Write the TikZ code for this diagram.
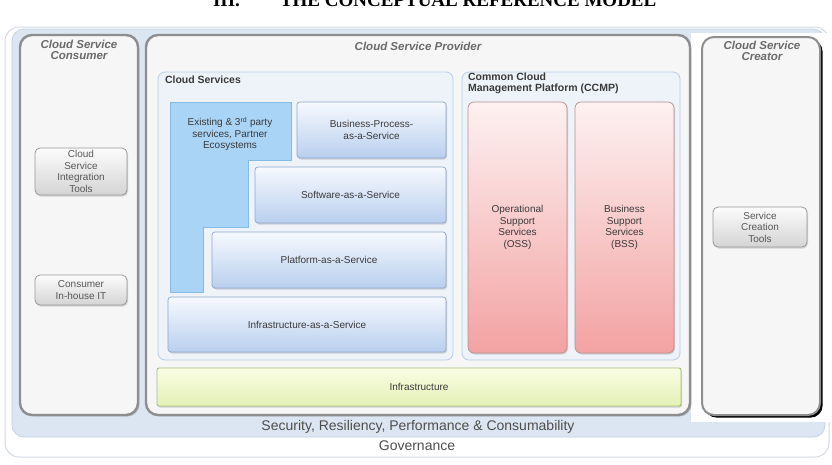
\documentclass[tikz,border=0pt]{standalone}
\usepackage{fontspec}
\setmainfont{Liberation Sans}
\newfontfamily\titleserif{Liberation Serif}
\usetikzlibrary{shadows}
\definecolor{govborder}{HTML}{D3DAE3}
\definecolor{bandfill}{HTML}{DCE6F2}
\definecolor{bandborder}{HTML}{C3D2E6}
\definecolor{panelfill}{HTML}{F6F6F6}
\definecolor{panelborder}{HTML}{8E8E8E}
\definecolor{titlegray}{HTML}{6A6A6A}
\definecolor{contfill}{HTML}{EEF3FA}
\definecolor{contborder}{HTML}{B9CCE5}
\definecolor{svctop}{HTML}{F6F9FE}
\definecolor{svcbot}{HTML}{B9CFEE}
\definecolor{svcborder}{HTML}{8DA7CC}
\definecolor{exfill}{HTML}{A9D4F6}
\definecolor{exborder}{HTML}{86BBE6}
\definecolor{redtop}{HTML}{FDF1F1}
\definecolor{redbot}{HTML}{F3A2A2}
\definecolor{redborder}{HTML}{BC8C8C}
\definecolor{infratop}{HTML}{F9FCE4}
\definecolor{infrabot}{HTML}{E5F1B6}
\definecolor{infraborder}{HTML}{A3BF78}
\definecolor{tooltop}{HTML}{FCFCFC}
\definecolor{toolbot}{HTML}{D4D4D4}
\definecolor{toolborder}{HTML}{989898}
\definecolor{txt}{HTML}{3A3A3A}
\newcommand\bx[7]{\node[#2, minimum width={(#5-#3)*1pt}, minimum height={(#6-#4)*1pt}] (#1) at ({(#3+#5)/2},{(#4+#6)/2}) {#7};}
\newcommand\boxfont{\fontsize{10}{11.5}\selectfont}
\begin{document}
\begin{tikzpicture}[x=1pt,y=-1pt,
  every node/.style={inner sep=0pt, outer sep=0pt, align=center},
  govbox/.style={draw=govborder, line width=1pt, fill=white, rounded corners=14pt},
  bandbox/.style={draw=bandborder, line width=0.8pt, fill=bandfill, rounded corners=12pt},
  panel/.style={draw=panelborder, line width=2.4pt, fill=panelfill, rounded corners=12pt,
    drop shadow={shadow xshift=1.5pt, shadow yshift=-1.5pt, opacity=0.35}},
  creatorpanel/.style={draw=panelborder, line width=2pt, fill=panelfill, rounded corners=12pt,
    drop shadow={shadow xshift=2.6pt, shadow yshift=-2.6pt, opacity=1, fill=black}},
  paneltitle/.style={font=\bfseries\itshape\fontsize{11.5}{10.5}\selectfont, text=titlegray},
  container/.style={draw=contborder, line width=0.8pt, fill=contfill, rounded corners=7pt},
  conttitle/.style={font=\bfseries\fontsize{10.5}{11}\selectfont, text=txt, align=left},
  svc/.style={draw=svcborder, line width=0.7pt, rounded corners=3pt, top color=svctop, bottom color=svcbot,
    font=\boxfont, text=txt, drop shadow={shadow xshift=1pt, shadow yshift=-1.5pt, opacity=0.3}},
  redbox/.style={draw=redborder, line width=0.7pt, rounded corners=6pt, top color=redtop, bottom color=redbot,
    font=\boxfont, text=txt, drop shadow={shadow xshift=1pt, shadow yshift=-1.5pt, opacity=0.3}},
  infrabox/.style={draw=infraborder, line width=0.9pt, rounded corners=2pt, top color=infratop, bottom color=infrabot,
    font=\boxfont, text=txt, drop shadow={shadow xshift=1pt, shadow yshift=-1.5pt, opacity=0.3}},
  toolbox/.style={draw=toolborder, line width=0.8pt, rounded corners=5pt, top color=tooltop, bottom color=toolbot,
    font=\boxfont, text=txt!85!white, drop shadow={shadow xshift=1pt, shadow yshift=-1.5pt, opacity=0.3}},
  bandtext/.style={font=\fontsize{14}{16}\selectfont, text=txt!90!white}
]
\useasboundingbox (0,0) rectangle (832,464);
\clip (0,0) rectangle (832,464);
\fill[white] (0,0) rectangle (832,464);

% cut-off heading
\node[anchor=base west, font={\titleserif\bfseries\fontsize{19}{19}\selectfont}] (secno) at (213,6) {III.};
\node[anchor=base west, font={\titleserif\bfseries\fontsize{19}{19}\selectfont}] (heading) at (280,6) {THE CONCEPTUAL REFERENCE MODEL};

% governance and security bands
\bx{gov}{govbox}{5}{27}{829}{457}{}
\bx{band}{bandbox}{12}{29}{825}{437}{}
\fill[white] (691,33) rectangle (832,422);
\node[bandtext] (sec) at (418,427) {Security, Resiliency, Performance \& Consumability};
\node[bandtext] (govtext) at (417,446) {Governance};

% consumer
\bx{consumer}{panel}{20}{35}{138}{415}{}
\node[paneltitle] (constitle) at (79,50) {Cloud Service\\Consumer};
\bx{csit}{toolbox}{35}{148}{127}{195}{Cloud\\Service\\Integration\\Tools}
\bx{inhouse}{toolbox}{35}{275}{127}{305}{Consumer\\In-house IT}

% provider
\bx{provider}{panel}{146}{35}{690}{415}{}
\node[paneltitle] (provtitle) at (418,46) {Cloud Service Provider};

% cloud services
\bx{cs}{container}{158}{72}{453}{360}{}
\node[conttitle, anchor=west] (cstitle) at (165,80) {Cloud Services};
\draw[draw=exborder, line width=0.7pt, fill=exfill]
  (170,102) -- (291,102) -- (291,160) -- (248,160) -- (248,227) -- (203,227) -- (203,292) -- (170,292) -- cycle;
\node[font=\boxfont, text=txt] (exist) at (230,134) {Existing \& 3\textsuperscript{rd} party\\services, Partner\\Ecosystems};
\bx{bpaas}{svc}{297}{102}{446}{158}{Business-Process-\\as-a-Service}
\bx{saas}{svc}{255}{167}{446}{223}{Software-as-a-Service}
\bx{paas}{svc}{212}{232}{446}{288}{Platform-as-a-Service}
\bx{iaas}{svc}{168}{297}{446}{352}{Infrastructure-as-a-Service}

% CCMP
\bx{ccmp}{container}{462}{72}{680}{360}{}
\node[conttitle, anchor=north west] (ccmptitle) at (468,73) {Common Cloud\\Management Platform (CCMP)};
\bx{oss}{redbox}{468}{102}{567}{353}{Operational\\Support\\Services\\(OSS)}
\bx{bss}{redbox}{575}{102}{674}{353}{Business\\Support\\Services\\(BSS)}

% infrastructure
\bx{infra}{infrabox}{157}{368}{681}{406}{Infrastructure}

% creator
\bx{creator}{creatorpanel}{702}{37}{820}{415}{}
\node[paneltitle] (crtitle) at (762,51) {Cloud Service\\Creator};
\bx{sct}{toolbox}{713}{207}{807}{247}{Service\\Creation\\Tools}
\end{tikzpicture}
\end{document}
